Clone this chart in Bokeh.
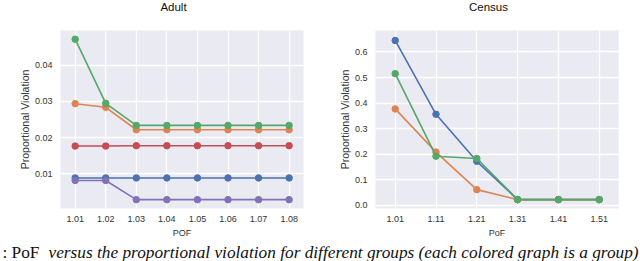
from bokeh.plotting import figure
from bokeh.layouts import row, column
from bokeh.models import Range1d, FixedTicker, Label
from bokeh.embed import file_html
from bokeh.resources import INLINE

# ---------------- data ----------------
adult_pof = [1.01, 1.02, 1.03, 1.04, 1.05, 1.06, 1.07, 1.08]
adult_blue = [0.0089, 0.0089, 0.0089, 0.0089, 0.0089, 0.0089, 0.0089, 0.0089]
adult_orange = [0.0294, 0.0284, 0.0222, 0.0222, 0.0222, 0.0222, 0.0222, 0.0222]
adult_green = [0.0472, 0.0295, 0.0234, 0.0234, 0.0234, 0.0234, 0.0234, 0.0234]
adult_red = [0.0177, 0.0177, 0.0178, 0.0178, 0.0178, 0.0178, 0.0178, 0.0178]
adult_purple = [0.0082, 0.0082, 0.0029, 0.0029, 0.0029, 0.0029, 0.0029, 0.0029]
adult_yticks = [0.01, 0.02, 0.03, 0.04]

census_pof = [1.01, 1.11, 1.21, 1.31, 1.41, 1.51]
census_blue = [0.645, 0.356, 0.172, 0.022, 0.022, 0.022]
census_orange = [0.377, 0.208, 0.061, 0.022, 0.022, 0.022]
census_green = [0.515, 0.192, 0.183, 0.022, 0.022, 0.022]
census_yticks = [0.0, 0.1, 0.2, 0.3, 0.4, 0.5, 0.6]

titles = ["Adult", "Census"]
caption_plain = ": PoF"
caption_italic = "versus the proportional violation for different groups (each colored graph is a group)"

BLUE, ORANGE, GREEN, RED, PURPLE = "#4C72B0", "#DD8452", "#55A868", "#C44E52", "#8172B3"
FONT = "Liberation Sans"
TICK_C = "#333333"
TITLE_H = 14


def blank(width, height, **kw):
    f = figure(width=width, height=height, output_backend="svg", toolbar_location=None,
               x_range=Range1d(0, width), y_range=Range1d(0, height),
               min_border=0, x_axis_location=None, y_axis_location=None, **kw)
    f.outline_line_color = None
    f.xgrid.visible = False
    f.ygrid.visible = False
    f.background_fill_alpha = 0
    f.border_fill_alpha = 0
    return f


def title_fig(text, cx):
    t = blank(320, TITLE_H)
    t.add_layout(Label(x=cx, y=7.5, text=text, text_font=FONT,
                       text_font_size="11.5px", text_color="#111111",
                       text_align="center", text_baseline="middle"))
    return t


def make_panel(xlabel, xs, series, xticks, yticks, xr, yr, left, right, ystandoff, yfmt):
    p = figure(width=left + 243 + right, height=240 - TITLE_H, output_backend="svg",
               toolbar_location=None, x_range=Range1d(*xr), y_range=Range1d(*yr),
               min_border_left=left, min_border_right=right,
               min_border_top=30 - TITLE_H, min_border_bottom=30)
    p.background_fill_color = "#EAEAF2"
    p.border_fill_color = "white"
    p.outline_line_color = None
    p.xgrid.grid_line_color = "white"
    p.ygrid.grid_line_color = "white"
    p.xgrid.grid_line_width = 1.3
    p.ygrid.grid_line_width = 1.3
    p.xaxis.ticker = FixedTicker(ticks=xticks)
    p.yaxis.ticker = FixedTicker(ticks=yticks)
    p.xaxis.major_label_overrides = {t: f"{t:.2f}" for t in xticks}
    p.yaxis.major_label_overrides = {t: yfmt(t) for t in yticks}
    for ax in (p.xaxis[0], p.yaxis[0]):
        ax.axis_line_color = None
        ax.major_tick_line_color = None
        ax.minor_tick_line_color = None
        ax.major_tick_out = 0
        ax.major_tick_in = 0
        ax.minor_tick_out = 0
        ax.minor_tick_in = 0
        ax.major_label_text_font = FONT
        ax.major_label_text_font_size = "9px"
        ax.major_label_text_color = TICK_C
        ax.axis_label_text_font = FONT
        ax.axis_label_text_font_style = "normal"
        ax.axis_label_text_color = TICK_C
    p.xaxis.axis_label = xlabel
    p.xaxis.axis_label_text_font_size = "9px"
    p.xaxis.major_label_standoff = 7
    p.xaxis.axis_label_standoff = 3
    p.yaxis.axis_label = "Proportional Violation"
    p.yaxis.axis_label_text_font_size = "10.5px"
    p.yaxis.major_label_standoff = ystandoff
    p.yaxis.axis_label_standoff = 1
    for ys, c in series:
        p.line(xs, ys, line_color=c, line_width=1.6)
        p.scatter(xs, ys, size=6.5, fill_color=c, line_color=c)
    return p


p1 = make_panel("POF", adult_pof,
                [(adult_blue, BLUE), (adult_orange, ORANGE), (adult_green, GREEN),
                 (adult_red, RED), (adult_purple, PURPLE)],
                adult_pof, adult_yticks, (1.0052, 1.0847), (0.00046, 0.0496),
                60, 17, 8, lambda t: f"{t:.2f}")
p2 = make_panel("PoF", census_pof,
                [(census_blue, BLUE), (census_orange, ORANGE), (census_green, GREEN)],
                census_pof, census_yticks, (0.9617, 1.5573), (-0.0128, 0.684),
                55, 22, 8, lambda t: f"{t:.1f}")

t1 = title_fig(titles[0], 173)
t2 = title_fig(titles[1], 168)

cap = blank(640, 25, margin=(-4, 0, 0, 0))
cap.add_layout(Label(x=2, y=9, text=caption_plain, text_font="Liberation Serif",
                     text_font_size="17.3px", text_color="#111111",
                     text_baseline="alphabetic"))
cap.add_layout(Label(x=48, y=9, text=caption_italic, text_font="Liberation Serif",
                     text_font_size="17.3px", text_font_style="italic",
                     text_color="#111111", text_baseline="alphabetic"))

layout = column(row(t1, t2), row(p1, p2), cap, margin=(0, 0, 0, 0))

open("out.html", "w").write(file_html(layout, INLINE))
